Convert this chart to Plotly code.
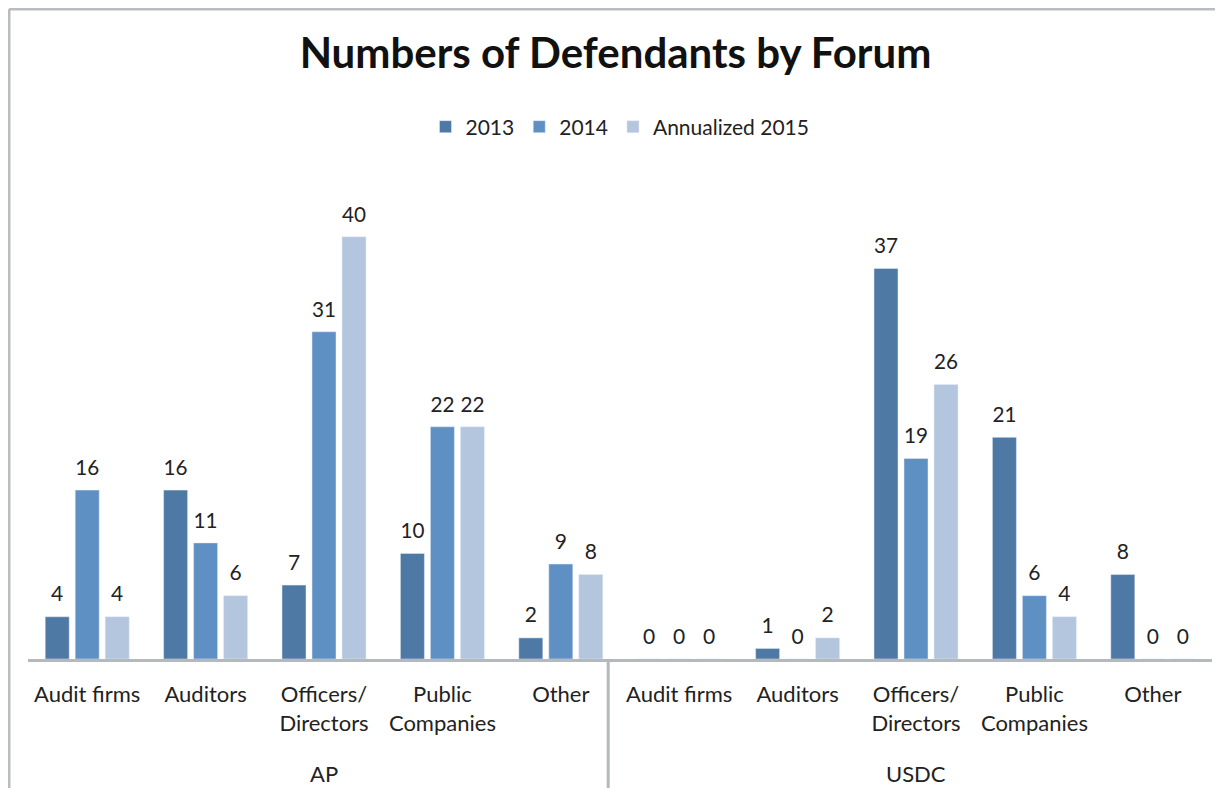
import plotly.graph_objects as go

# data
forums = ["AP", "USDC"]
defendants = ["Audit firms", "Auditors", "Officers/<br>Directors", "Public<br>Companies", "Other"]
y2013 = [4, 16, 7, 10, 2, 0, 1, 37, 21, 8]
y2014 = [16, 11, 31, 22, 9, 0, 0, 19, 6, 0]
y2015 = [4, 6, 40, 22, 8, 0, 2, 26, 4, 0]
series_names = ["2013", "2014", "Annualized 2015"]
colors = ["#4e79a5", "#5f90c3", "#b4c5de"]

keys = [f + " " + d for f in forums for d in defendants]
labels = defendants * len(forums)

# page has an 8px body margin, so the figure is sized to fill the rest
W, H = 1215, 780
L, R, T, B = 20, 11, 176, 129
font = "Lato, Calibri, sans-serif"

fig = go.Figure()
for name, vals, col in zip(series_names, [y2013, y2014, y2015], colors):
    fig.add_trace(go.Bar(
        x=keys, y=vals, name=name, marker_color=col,
        texttemplate="<span style='font-size:21px'>%{y}</span><br>&nbsp;",
        textposition="outside", cliponaxis=False,
        textfont=dict(size=8, color="#222222", family=font),
    ))

fig.update_layout(
    width=W, height=H,
    margin=dict(l=L, r=R, t=T, b=B),
    paper_bgcolor="white", plot_bgcolor="white",
    barmode="group", bargap=0.24, bargroupgap=0.2,
    font=dict(family=font, size=22, color="#222222"),
    title=dict(text="<b>Numbers of Defendants by Forum</b>", x=0.5, xanchor="center",
               y=1 - 45 / H, yanchor="middle", font=dict(size=42, color="#111111")),
    legend=dict(orientation="h", x=0.5, xanchor="center", y=1.12, yanchor="middle",
                font=dict(size=21), traceorder="normal"),
    showlegend=True,
)
fig.update_xaxes(tickvals=keys, ticktext=labels, showline=True, linecolor="#b4b9bd",
                 linewidth=3, ticks="", showgrid=False, tickfont=dict(size=22),
                 ticklabelstandoff=14)
fig.update_yaxes(range=[0, 45], visible=False, showgrid=False)

# forum group labels and separator
for i, f in enumerate(forums):
    fig.add_annotation(x=keys[i * 5 + 2], y=-0.24, xref="x", yref="paper", text=f,
                       showarrow=False, font=dict(size=22), yanchor="middle")
fig.add_shape(type="line", xref="x", yref="paper", x0=4.4, x1=4.4, y0=0, y1=-0.3,
              line=dict(color="#b4b9bd", width=3))

# chart frame (left and top edges visible)
px = lambda p: (p - L) / (W - L - R)
py = lambda p: (H - B - p) / (H - T - B)
fig.add_shape(type="line", xref="paper", yref="paper", x0=px(1), x1=px(1), y0=py(1), y1=py(H + 5),
              line=dict(color="#b9bdc1", width=3))
fig.add_shape(type="line", xref="paper", yref="paper", x0=px(1), x1=px(W + 5), y0=py(1), y1=py(1),
              line=dict(color="#b9bdc1", width=3))

fig.write_html("out.html")
